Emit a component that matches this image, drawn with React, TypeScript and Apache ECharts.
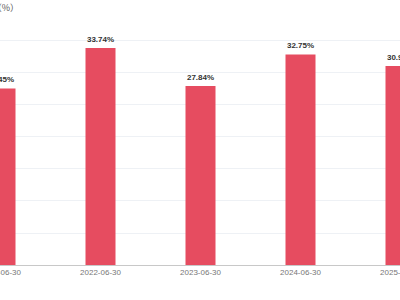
import React, { useEffect, useRef } from "react";
import * as echarts from "echarts";

const categories = ["2021-06-30", "2022-06-30", "2023-06-30", "2024-06-30", "2025-06-30"];
const values = [27.45, 33.74, 27.84, 32.75, 30.95];
const yMin = 0;
const yMax = 35;
const yInterval = 5;
const unitLabel = "（%）";

export default function App() {
  const ref = useRef<HTMLDivElement>(null);
  useEffect(() => {
    if (!ref.current) return;
    const chart = echarts.init(ref.current, undefined, { renderer: "svg" });
    chart.setOption({
      animation: false,
      textStyle: { fontFamily: "Liberation Sans, Arial, sans-serif" },
      grid: { left: 50.5, right: 49.5, top: 40, bottom: 35, containLabel: false },
      graphic: [
        {
          type: "text",
          x: 119,
          y: 7,
          style: {
            text: unitLabel,
            fill: "#555",
            fontSize: 9,
            fontFamily: "Noto Sans CJK SC, sans-serif",
            textAlign: "right",
            textVerticalAlign: "middle",
          },
        },
      ],
      xAxis: {
        type: "category",
        data: categories,
        axisTick: { show: false },
        axisLine: { lineStyle: { color: "#c8c8c8", width: 1 } },
        axisLabel: { color: "#777", fontSize: 8, margin: 3 },
      },
      yAxis: {
        type: "value",
        min: yMin,
        max: yMax,
        interval: yInterval,
        axisLabel: { show: false },
        axisLine: { show: false },
        axisTick: { show: false },
        splitLine: { lineStyle: { color: "#eef1f5", width: 1 } },
      },
      series: [
        {
          type: "bar",
          data: values,
          barWidth: 30,
          itemStyle: { color: "#e64c60" },
          label: {
            show: true,
            position: "top",
            distance: 5,
            formatter: "{c}%",
            color: "#333",
            fontSize: 8,
            fontWeight: "bold",
          },
        },
      ],
    });
    return () => chart.dispose();
  }, []);
  return (
    <div style={{ position: "fixed", left: 0, top: 0, width: 400, height: 300, overflow: "hidden", background: "#fff" }}>
      <div ref={ref} style={{ position: "absolute", left: -100, top: 0, width: 600, height: 300 }} />
    </div>
  );
}
